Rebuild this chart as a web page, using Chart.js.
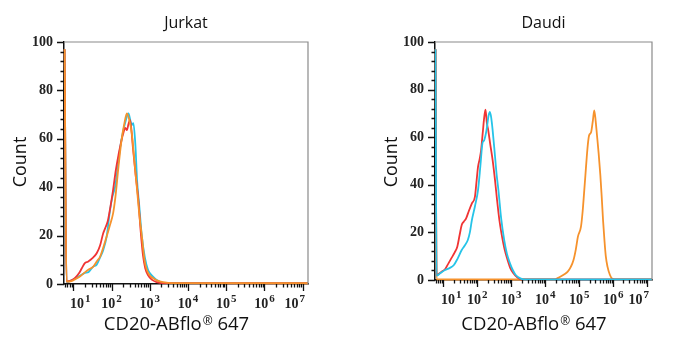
<!DOCTYPE html>
<html>
<head>
<meta charset="utf-8">
<script src="https://cdn.jsdelivr.net/npm/chart.js@4.4.0/dist/chart.umd.min.js"></script>
<style>
  body { margin: 0; background: #fff; }
  .panel { position: absolute; top: 0; height: 350px; }
</style>
</head>
<body>
<div class="panel" style="left:0;width:344px"><canvas id="jurkatChart"></canvas></div>
<div class="panel" style="left:371px;width:317px"><canvas id="daudiChart"></canvas></div>
<script>
// x values are log10 of the CD20-ABflo 647 intensity, y values are event counts
const decades = [1, 2, 3, 4, 5, 6, 7];
const countTicks = [0, 20, 40, 60, 80, 100];

// Jurkat
const jurkatOrangeX = [0.77, 0.82, 0.95, 1.05, 1.17, 1.30, 1.42, 1.52, 1.62, 1.70, 1.78, 1.87, 1.95, 2.04, 2.10, 2.18, 2.26, 2.33, 2.40, 2.46, 2.53, 2.60, 2.66, 2.73, 2.79, 2.86, 2.92, 3.00, 3.09, 3.20, 3.35, 3.60, 7.14];
const jurkatOrangeY = [97, 1.0, 1.2, 2.0, 3.1, 4.8, 6.2, 7.2, 9.5, 11.3, 15, 19.6, 24, 29.3, 36, 48.5, 59.5, 66, 70.5, 68, 62, 50, 40, 28, 20, 10, 5.9, 3.5, 2.4, 1.4, 0.8, 0.4, 0.3];
const jurkatRedX = [0.77, 0.82, 0.95, 1.05, 1.15, 1.22, 1.30, 1.38, 1.45, 1.55, 1.62, 1.70, 1.78, 1.83, 1.90, 1.97, 2.04, 2.11, 2.18, 2.24, 2.30, 2.36, 2.40, 2.44, 2.48, 2.51, 2.56, 2.63, 2.70, 2.76, 2.82, 2.88, 2.96, 3.05, 3.18, 3.35, 7.14];
const jurkatRedY = [97, 1.0, 1.5, 2.6, 4.5, 6.5, 8.6, 9.2, 10, 11.5, 13, 16, 21, 23, 26, 32, 39, 47, 53.3, 58, 62, 64.5, 63.6, 66, 67.8, 65, 56, 45, 34.7, 22, 12, 6.5, 3.5, 1.8, 0.8, 0.4, 0.3];
const jurkatCyanX = [0.77, 0.82, 0.95, 1.05, 1.17, 1.30, 1.40, 1.52, 1.61, 1.70, 1.78, 1.87, 1.96, 2.02, 2.09, 2.15, 2.22, 2.30, 2.37, 2.44, 2.50, 2.53, 2.57, 2.62, 2.67, 2.72, 2.79, 2.87, 2.95, 3.00, 3.10, 3.18, 3.35, 7.14];
const jurkatCyanY = [97, 0.8, 1.5, 2.3, 3.4, 4.6, 5.0, 7.2, 8.0, 11, 14, 19.6, 30.6, 36, 40, 47, 56, 63, 67.5, 70.5, 67, 65.7, 66.5, 58, 42, 33, 20, 11, 6, 4.5, 2.8, 1.7, 0.5, 0.3];

// Daudi
const daudiCyanX = [0.77, 0.80, 0.92, 1.05, 1.18, 1.31, 1.42, 1.54, 1.63, 1.72, 1.78, 1.84, 1.93, 2.02, 2.09, 2.15, 2.20, 2.27, 2.33, 2.37, 2.41, 2.45, 2.52, 2.57, 2.62, 2.70, 2.79, 2.87, 2.96, 3.05, 3.13, 3.25, 3.39, 7.14];
const daudiCyanY = [97, 1.8, 3.0, 4.2, 5.0, 6.3, 9, 12.6, 14.5, 16.8, 20, 25.2, 31, 37.8, 48, 57.4, 58.7, 63, 69, 70.6, 68, 63, 52, 44, 37.8, 26, 16.8, 11, 7, 4, 2.1, 0.8, 0.2, 0.2];
const daudiRedX = [0.77, 0.80, 0.95, 1.05, 1.15, 1.25, 1.33, 1.41, 1.48, 1.54, 1.60, 1.67, 1.75, 1.84, 1.93, 1.98, 2.02, 2.07, 2.11, 2.16, 2.20, 2.24, 2.28, 2.32, 2.38, 2.45, 2.52, 2.58, 2.65, 2.71, 2.80, 2.89, 2.97, 3.06, 3.18, 3.30, 7.14];
const daudiRedY = [97, 2.1, 3.5, 4.5, 7.0, 9.5, 11.5, 14, 19, 23.1, 24.5, 25.9, 29, 32.2, 35, 42, 47.5, 51, 54.5, 62, 68, 71.6, 66, 63, 57, 50.4, 42, 33.6, 25, 19.6, 13, 8.4, 5, 2.8, 1, 0.2, 0.2];
const daudiOrangeX = [0.77, 0.80, 4.27, 4.36, 4.44, 4.55, 4.66, 4.75, 4.83, 4.90, 4.96, 5.05, 5.10, 5.14, 5.18, 5.22, 5.26, 5.29, 5.35, 5.40, 5.44, 5.48, 5.52, 5.57, 5.62, 5.66, 5.70, 5.74, 5.78, 5.83, 5.90, 5.96, 6.09, 7.14];
const daudiOrangeY = [97, 0.2, 0.2, 0.8, 1.4, 2.3, 3.5, 5.5, 8.4, 13, 18.2, 22.4, 29, 36.4, 44, 51.7, 58, 60.8, 62.2, 67, 71.3, 67.1, 61, 53.2, 44, 35, 25, 16.8, 10, 5.6, 2.2, 0.7, 0.2, 0.2];

const RED = "rgb(240, 52, 52)";
const ORANGE = "rgb(246, 146, 44)";
const CYAN = "rgb(38, 196, 232)";

function toPoints(xs, ys) {
  return xs.map(function (x, i) { return { x: x, y: ys[i] }; });
}

function series(xs, ys, color) {
  return {
    data: toPoints(xs, ys),
    borderColor: color,
    borderWidth: 1.8,
    pointRadius: 0,
    cubicInterpolationMode: "monotone",
    fill: false,
    clip: false,
  };
}

// frame, tick marks, 10^n labels and titles
const histDecor = {
  id: "histDecor",
  afterDraw(chart, args, opts) {
    const ctx = chart.ctx;
    const a = chart.chartArea;
    const x = chart.scales.x;
    const y = chart.scales.y;
    ctx.save();

    ctx.strokeStyle = "#8a8a8a";
    ctx.lineWidth = 1.2;
    ctx.beginPath();
    ctx.moveTo(a.left, a.top);
    ctx.lineTo(a.right, a.top);
    ctx.lineTo(a.right, a.bottom);
    ctx.stroke();

    ctx.strokeStyle = "#111";
    ctx.lineWidth = 1.3;
    ctx.beginPath();
    for (let v = 0; v <= 100; v += 4) {
      const py = Math.round(y.getPixelForValue(v)) + 0.5;
      const len = v % 20 === 0 ? 7 : 3.5;
      ctx.moveTo(a.left - len, py);
      ctx.lineTo(a.left, py);
    }
    for (let d = 0; d <= 7; d++) {
      for (let m = 1; m <= 9; m++) {
        const v = d + Math.log10(m);
        if (v < x.min || v > x.max) continue;
        const px = Math.round(x.getPixelForValue(v)) + 0.5;
        const len = m === 1 ? 7 : 3.5;
        ctx.moveTo(px, a.bottom);
        ctx.lineTo(px, a.bottom + len);
      }
    }
    ctx.stroke();

    ctx.fillStyle = "#222";
    ctx.textBaseline = "alphabetic";
    ctx.textAlign = "left";
    const baseFont = "bold 14px 'Liberation Serif'";
    const expFont = "bold 11px 'Liberation Serif'";
    decades.forEach(function (d) {
      const base = "10";
      const exp = String(d);
      ctx.font = baseFont;
      const wb = ctx.measureText(base).width;
      ctx.font = expFont;
      const we = ctx.measureText(exp).width + 1;
      const w = wb + we;
      let start = x.getPixelForValue(d) - w / 2;
      start = Math.max(a.left + 6, Math.min(start, a.right - 3 - w));
      const by = a.bottom + 24;
      ctx.font = baseFont;
      ctx.fillText(base, start, by);
      ctx.font = expFont;
      ctx.fillText(exp, start + wb + 1, by - 6);
    });

    ctx.fillStyle = "#111";
    ctx.font = "16px 'Open Sans'";
    ctx.textAlign = "center";
    ctx.fillText(opts.title, (a.left + a.right) / 2, 28);

    ctx.save();
    ctx.translate(26, 162);
    ctx.rotate(-Math.PI / 2);
    ctx.font = "18px 'Open Sans'";
    ctx.fillText("Count", 0, 0);
    ctx.restore();

    // x-axis title with a raised registered sign
    const p1 = "CD20-ABflo";
    const p2 = "\u00AE";
    const p3 = " 647";
    const titleFont = "18.5px 'Open Sans'";
    const markFont = "12px 'Open Sans'";
    ctx.textAlign = "left";
    ctx.font = titleFont;
    const w1 = ctx.measureText(p1).width;
    const w3 = ctx.measureText(p3).width;
    ctx.font = markFont;
    const w2 = ctx.measureText(p2).width;
    const sx = (a.left + a.right) / 2 - 10 - (w1 + w2 + w3) / 2;
    const ty = chart.height - 20;
    ctx.font = titleFont;
    ctx.fillText(p1, sx, ty);
    ctx.font = markFont;
    ctx.fillText(p2, sx + w1 + 1, ty - 5);
    ctx.font = titleFont;
    ctx.fillText(p3, sx + w1 + w2 + 1, ty);
    ctx.restore();
  },
};

function makeHistogram(canvasId, title, datasets, xAxisHeight) {
  return new Chart(document.getElementById(canvasId), {
    type: "line",
    data: { datasets: datasets },
    plugins: [histDecor],
    options: {
      responsive: true,
      maintainAspectRatio: false,
      animation: false,
      layout: { padding: { top: 42, right: 36, left: 0, bottom: 0 } },
      plugins: {
        legend: { display: false },
        tooltip: { enabled: false },
        histDecor: { title: title },
      },
      scales: {
        x: {
          type: "linear",
          min: 0.754,
          max: 7.14,
          grid: { display: false, drawTicks: false },
          border: { display: true, color: "#111", width: 1.5 },
          ticks: { display: false },
          afterFit: function (scale) { scale.height = xAxisHeight; },
        },
        y: {
          type: "linear",
          min: 0,
          max: 100,
          afterBuildTicks: function (scale) {
            scale.ticks = countTicks.map(function (v) { return { value: v }; });
          },
          grid: { display: false, drawTicks: false },
          border: { display: true, color: "#111", width: 1.5 },
          ticks: {
            padding: 11,
            color: "#222",
            font: { family: "'Liberation Serif'", size: 14, weight: "bold" },
          },
          afterFit: function (scale) { scale.width = 64; },
        },
      },
    },
  });
}

makeHistogram("jurkatChart", "Jurkat", [
  series(jurkatOrangeX, jurkatOrangeY, ORANGE),
  series(jurkatRedX, jurkatRedY, RED),
  series(jurkatCyanX, jurkatCyanY, CYAN),
], 66);

makeHistogram("daudiChart", "Daudi", [
  series(daudiCyanX, daudiCyanY, CYAN),
  series(daudiRedX, daudiRedY, RED),
  series(daudiOrangeX, daudiOrangeY, ORANGE),
], 70);
</script>
</body>
</html>
